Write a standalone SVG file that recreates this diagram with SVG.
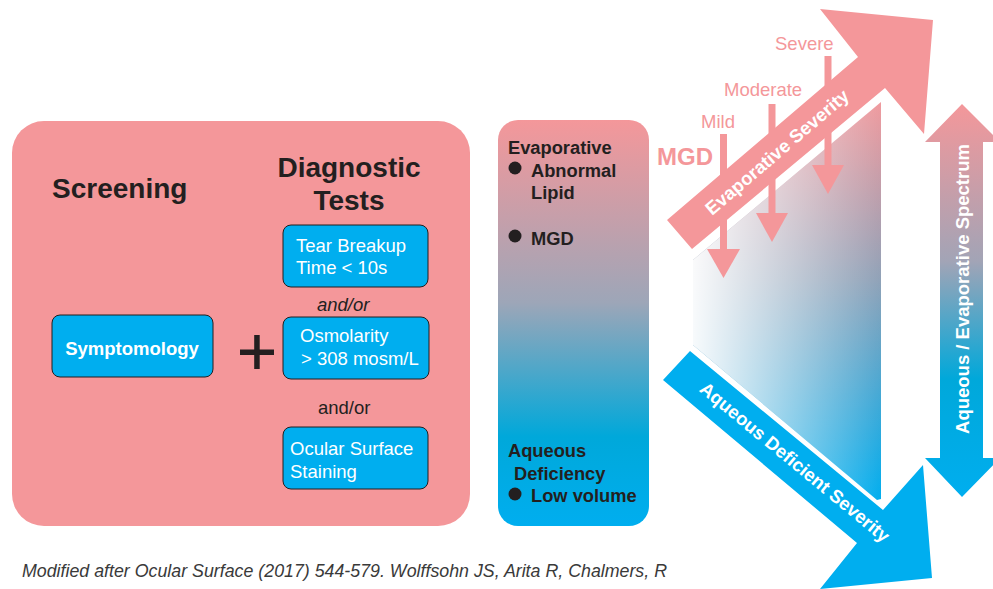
<svg xmlns="http://www.w3.org/2000/svg" width="993" height="589" viewBox="0 0 993 589">
<style>
  text { font-family: "Liberation Sans", Arial, sans-serif; }
  .dark { fill: #231F20; }
  .h1 { font-size: 28px; font-weight: bold; }
  .box { fill: #00AEEF; stroke: #231F20; stroke-width: 1; }
  .bt { fill: #FFFFFF; font-size: 18.5px; }
  .pk { fill: #F4979A; }
  .pt { fill: #F4979A; font-size: 18.5px; }
  .mt { font-size: 18.3px; font-weight: bold; fill: #231F20; }
  .wt { fill: #FFFFFF; font-weight: bold; font-size: 18.5px; }
</style>
<defs>
  <linearGradient id="midGrad" x1="0" y1="120" x2="0" y2="526" gradientUnits="userSpaceOnUse">
    <stop offset="0" stop-color="#F4979A"/>
    <stop offset="0.45" stop-color="#9DA6B8"/>
    <stop offset="0.78" stop-color="#00A8DA"/>
    <stop offset="1" stop-color="#00AEEF"/>
  </linearGradient>
  <linearGradient id="vGrad" x1="0" y1="104" x2="0" y2="497" gradientUnits="userSpaceOnUse">
    <stop offset="0" stop-color="#F4979A"/>
    <stop offset="0.4" stop-color="#A2A4B6"/>
    <stop offset="0.7" stop-color="#00A8DA"/>
    <stop offset="1" stop-color="#00AEEF"/>
  </linearGradient>
  <linearGradient id="quadGrad" x1="0" y1="102" x2="0" y2="500" gradientUnits="userSpaceOnUse">
    <stop offset="0" stop-color="#F09A9E"/>
    <stop offset="0.45" stop-color="#8FA2B8"/>
    <stop offset="1" stop-color="#00AEEF"/>
  </linearGradient>
  <linearGradient id="fadeGrad" x1="693" y1="0" x2="881" y2="0" gradientUnits="userSpaceOnUse">
    <stop offset="0" stop-color="#FFFFFF" stop-opacity="0.95"/>
    <stop offset="1" stop-color="#FFFFFF" stop-opacity="0"/>
  </linearGradient>
</defs>

<g id="screening-panel">
  <rect x="12" y="121" width="458" height="405" rx="32" class="pk"/>
  <text x="52" y="198" class="h1 dark">Screening</text>
  <text x="349" y="177" class="h1 dark" text-anchor="middle">Diagnostic</text>
  <text x="349" y="210" class="h1 dark" text-anchor="middle">Tests</text>
</g>

<g id="symptomology">
  <rect x="52" y="315" width="161" height="62" rx="8" class="box"/>
  <text x="132" y="355" class="bt" font-weight="bold" text-anchor="middle">Symptomology</text>
</g>

<g id="plus">
  <rect x="240" y="349.5" width="34" height="5.5" class="dark"/>
  <rect x="254.2" y="335" width="5.5" height="34" class="dark"/>
</g>

<g id="tbut">
  <rect x="283" y="225" width="145" height="62" rx="8" class="box"/>
  <text x="296" y="252" class="bt">Tear Breakup</text>
  <text x="296" y="274" class="bt">Time &lt; 10s</text>
</g>

<text x="317" y="311" class="dark" font-size="18.5" font-style="italic">and/or</text>

<g id="osmolarity">
  <rect x="283" y="317" width="146" height="62" rx="8" class="box"/>
  <text x="300" y="342" class="bt">Osmolarity</text>
  <text x="301" y="365" class="bt">&gt; 308 mosm/L</text>
</g>

<text x="318" y="414" class="dark" font-size="18.5">and/or</text>

<g id="staining">
  <rect x="283" y="427" width="145" height="62" rx="8" class="box"/>
  <text x="290" y="455" class="bt">Ocular Surface</text>
  <text x="290" y="478" class="bt">Staining</text>
</g>

<g id="spectrum-panel">
  <rect x="498" y="120" width="151" height="406" rx="20" fill="url(#midGrad)"/>
  <text x="508" y="154" class="mt">Evaporative</text>
  <circle cx="515" cy="168" r="6.5" fill="#231F20"/>
  <text x="531" y="177" class="mt">Abnormal</text>
  <text x="531" y="199" class="mt">Lipid</text>
  <circle cx="515" cy="236" r="6.5" fill="#231F20"/>
  <text x="531" y="245" class="mt">MGD</text>
  <text x="508" y="457" class="mt">Aqueous</text>
  <text x="514" y="480" class="mt">Deficiency</text>
  <circle cx="515" cy="494" r="6.5" fill="#231F20"/>
  <text x="531" y="502" class="mt">Low volume</text>
</g>

<g id="severity-field">
  <polygon points="693,260 881,102 881,499 877,500 693,345" fill="url(#quadGrad)"/>
  <polygon points="693,260 881,102 881,499 877,500 693,345" fill="url(#fadeGrad)"/>
</g>

<g id="connectors">
  <g id="evaporative-arrow">
    <polygon points="667,220 858,57 820,9 933,20 924,134 885,88 692,249" class="pk"/>
  </g>
  <g id="mild-arrow" class="pk">
    <rect x="720" y="134" width="7" height="116"/>
    <polygon points="707,249 740,249 723.5,278"/>
  </g>
  <g id="moderate-arrow" class="pk">
    <rect x="768.5" y="104" width="7" height="110"/>
    <polygon points="756,213 788,213 772,242"/>
  </g>
  <g id="severe-arrow" class="pk">
    <rect x="824.5" y="56" width="7" height="110"/>
    <polygon points="812,165 844,165 828,194"/>
  </g>
  <g id="aqueous-arrow">
    <polygon points="690,351 883,510 923,465 932,578 820,589 857,543 663,380" fill="#00AEEF"/>
  </g>
  <g id="spectrum-arrow">
    <polygon points="962,104 1000,142 983,142 983,458 1000,458 962,497 925,458 940,458 940,142 925,142" fill="url(#vGrad)"/>
  </g>
</g>

<g id="arrow-labels">
  <text transform="translate(777,152) rotate(-40.5)" x="0" y="6.5" class="wt" text-anchor="middle">Evaporative Severity</text>
  <text transform="translate(795,462) rotate(39.5)" x="0" y="6.5" class="wt" text-anchor="middle">Aqueous Deficient Severity</text>
  <text transform="translate(968.5,289) rotate(-90)" x="0" y="0" class="wt" font-size="19" text-anchor="middle">Aqueous / Evaporative Spectrum</text>
</g>

<g id="severity-labels">
  <text x="657" y="165" fill="#F4979A" font-size="24" font-weight="bold">MGD</text>
  <text x="701" y="128" class="pt">Mild</text>
  <text x="724" y="96" class="pt">Moderate</text>
  <text x="775" y="50" class="pt">Severe</text>
</g>

<text x="22" y="577" fill="#3A3A3A" font-size="19" font-style="italic" textLength="645" lengthAdjust="spacingAndGlyphs">Modified after Ocular Surface (2017) 544-579. Wolffsohn JS, Arita R, Chalmers, R</text>
</svg>
